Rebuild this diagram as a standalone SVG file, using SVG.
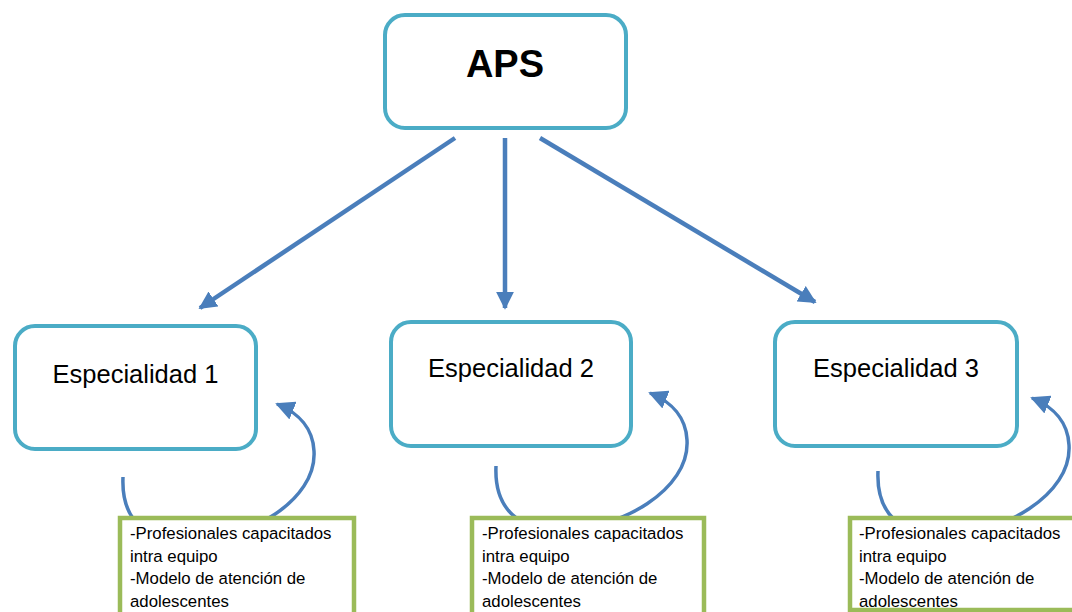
<svg xmlns="http://www.w3.org/2000/svg" width="1072" height="612" viewBox="0 0 1072 612">
<defs>
<style>
.box{fill:#fff;stroke:#4BACC6;stroke-width:4}
.note{fill:#fff;stroke:#9BBB59;stroke-width:4.5}
.conn{fill:none;stroke:#4A7EBB;stroke-width:4.5}
.loop{fill:none;stroke:#4A7EBB;stroke-width:3.5}
.t{font-family:"Liberation Sans",Arial,sans-serif;fill:#000}
.big{font-size:25.5px;text-anchor:middle}
.small{font-size:16.8px}
</style>
<marker id="ah" viewBox="0 0 10 10" refX="9" refY="5" markerWidth="4" markerHeight="4" markerUnits="strokeWidth" orient="auto">
<path d="M0,0 L10,5 L0,10 z" fill="#4A7EBB"/>
</marker>
<marker id="ah2" viewBox="0 0 10 10" refX="9" refY="5" markerWidth="5.5" markerHeight="5.5" markerUnits="strokeWidth" orient="auto">
<path d="M0,0 L10,5 L0,10 z" fill="#4A7EBB"/>
</marker>
</defs>
<rect width="1072" height="612" fill="#fff"/>
<g id="connectors">
<line class="conn" x1="455" y1="138" x2="200" y2="308" marker-end="url(#ah)"/>
<line class="conn" x1="505" y1="138" x2="505" y2="308" marker-end="url(#ah)"/>
<line class="conn" x1="540" y1="138" x2="815" y2="302" marker-end="url(#ah)"/>
<path class="loop" transform="translate(-373,11)" d="M496,466 C494,510 520,530 560,530 C620,530 690,490 687,440 C686,418 672,402 650,393" marker-end="url(#ah2)"/>
<path class="loop" d="M496,466 C494,510 520,530 560,530 C620,530 690,490 687,440 C686,418 672,402 650,393" marker-end="url(#ah2)"/>
<path class="loop" transform="translate(382,5)" d="M496,466 C494,510 520,530 560,530 C620,530 690,490 687,440 C686,418 672,402 650,393" marker-end="url(#ah2)"/>
</g>
<g id="aps">
<rect class="box" x="385" y="15" width="241" height="113" rx="20"/>
<text class="t" x="505" y="77" font-size="38" font-weight="bold" text-anchor="middle">APS</text>
</g>
<g id="esp1">
<rect class="box" x="15" y="326" width="241" height="123" rx="20"/>
<text class="t big" x="135.5" y="383">Especialidad 1</text>
</g>
<g id="esp2">
<rect class="box" x="391" y="322" width="240" height="124" rx="20"/>
<text class="t big" x="511" y="377">Especialidad 2</text>
</g>
<g id="esp3">
<rect class="box" x="775" y="322" width="242" height="124" rx="20"/>
<text class="t big" x="896" y="377">Especialidad 3</text>
</g>
<g id="note1">
<rect class="note" x="120" y="518" width="234" height="110"/>
<text class="t small" x="130"><tspan x="130" y="539">-Profesionales capacitados</tspan><tspan x="130" y="562">intra equipo</tspan><tspan x="130" y="584">-Modelo de atención de</tspan><tspan x="130" y="607">adolescentes</tspan></text>
</g>
<g id="note2">
<rect class="note" x="472" y="518" width="232" height="110"/>
<text class="t small" x="482"><tspan x="482" y="539">-Profesionales capacitados</tspan><tspan x="482" y="562">intra equipo</tspan><tspan x="482" y="584">-Modelo de atención de</tspan><tspan x="482" y="607">adolescentes</tspan></text>
</g>
<g id="note3">
<rect class="note" x="850" y="518" width="240" height="92"/>
<text class="t small" x="859"><tspan x="859" y="539">-Profesionales capacitados</tspan><tspan x="859" y="562">intra equipo</tspan><tspan x="859" y="584">-Modelo de atención de</tspan><tspan x="859" y="607">adolescentes</tspan></text>
</g>
</svg>
